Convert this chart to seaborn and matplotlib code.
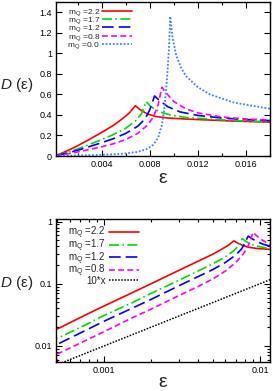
import matplotlib
matplotlib.use("Agg")
import matplotlib.pyplot as plt
import seaborn as sns
from matplotlib.ticker import MultipleLocator, FuncFormatter, LogLocator, NullFormatter

sns.set_style("ticks")
plt.rcParams["font.family"] = ["Liberation Sans", "DejaVu Sans"]
plt.rcParams["mathtext.fontset"] = "custom"
plt.rcParams["mathtext.rm"] = "Liberation Sans"
plt.rcParams["mathtext.it"] = "Liberation Sans:italic"

# data
eps_22 = [0.0002, 0.0003, 0.0005, 0.00075, 0.001, 0.0015, 0.002, 0.003, 0.004, 0.005, 0.0058,
          0.0063, 0.0068, 0.0072, 0.0078, 0.0085, 0.0095, 0.011, 0.013, 0.015, 0.0165, 0.018]
d_22 = [0.0064, 0.0103, 0.0187, 0.031, 0.044, 0.071, 0.10, 0.163, 0.23, 0.30, 0.37,
        0.42, 0.49, 0.45, 0.41, 0.385, 0.37, 0.36, 0.35, 0.34, 0.335, 0.33]

eps_17 = [0.0002, 0.0003, 0.0005, 0.00075, 0.001, 0.0015, 0.002, 0.003, 0.004, 0.005, 0.006,
          0.0068, 0.0073, 0.0077, 0.0081, 0.0088, 0.0097, 0.011, 0.013, 0.015, 0.0165, 0.018]
d_17 = [0.0044, 0.0072, 0.0132, 0.0215, 0.031, 0.049, 0.07, 0.113, 0.16, 0.21, 0.27,
        0.34, 0.41, 0.53, 0.48, 0.43, 0.40, 0.375, 0.36, 0.345, 0.34, 0.33]

eps_12 = [0.0002, 0.0003, 0.0005, 0.00075, 0.001, 0.0015, 0.002, 0.003, 0.004, 0.005, 0.006,
          0.007, 0.0076, 0.008, 0.0084, 0.0088, 0.0095, 0.0105, 0.012, 0.014, 0.016, 0.018]
d_12 = [0.0035, 0.0058, 0.0106, 0.0175, 0.025, 0.040, 0.056, 0.092, 0.13, 0.17, 0.22,
        0.29, 0.36, 0.45, 0.585, 0.54, 0.48, 0.43, 0.395, 0.37, 0.355, 0.345]

eps_08 = [0.0002, 0.0003, 0.0005, 0.00075, 0.001, 0.0015, 0.002, 0.003, 0.004, 0.005, 0.006,
          0.007, 0.0078, 0.0083, 0.0087, 0.009, 0.0094, 0.010, 0.011, 0.012, 0.014, 0.016, 0.018]
d_08 = [0.0025, 0.0040, 0.0074, 0.012, 0.017, 0.028, 0.039, 0.064, 0.09, 0.12, 0.16,
        0.22, 0.30, 0.38, 0.50, 0.67, 0.61, 0.53, 0.46, 0.42, 0.38, 0.36, 0.35]

eps_00 = [0.0002, 0.001, 0.002, 0.003, 0.004, 0.005, 0.006, 0.007, 0.0078, 0.0083, 0.0087,
          0.009, 0.0092, 0.0094, 0.0096, 0.0097, 0.0099, 0.0102, 0.0106, 0.011, 0.012, 0.013,
          0.014, 0.015, 0.016, 0.017, 0.018]
d_00 = [0.001, 0.003, 0.005, 0.008, 0.012, 0.017, 0.025, 0.04, 0.07, 0.11, 0.18,
        0.30, 0.45, 0.70, 1.05, 1.36, 1.15, 0.98, 0.86, 0.78, 0.67, 0.60,
        0.56, 0.52, 0.50, 0.48, 0.46]

eps_ref = [0.00045, 0.012]
d_ref = [0.0045, 0.12]

curves = [
    ("m$_{\\rm Q}$ =2.2", eps_22, d_22, "#ff0000", "-"),
    ("m$_{\\rm Q}$ =1.7", eps_17, d_17, "#00dd00", (0, (6, 2, 1, 2))),
    ("m$_{\\rm Q}$ =1.2", eps_12, d_12, "#0000ff", (0, (7, 3))),
    ("m$_{\\rm Q}$ =0.8", eps_08, d_08, "#ff00ff", (0, (3.5, 2))),
]

fmt = FuncFormatter(lambda v, p: f"{v:g}")

fig = plt.figure(figsize=(2.73, 3.91), dpi=100)
ax1 = fig.add_axes([56 / 273, 1 - 156 / 391, 214 / 273, 154 / 391])
ax2 = fig.add_axes([56 / 273, 1 - 362 / 391, 214 / 273, 143 / 391])

# top: linear
for lab, x, y, c, ls in curves:
    sns.lineplot(x=x, y=y, ax=ax1, color=c, linestyle=ls, linewidth=1.2, label=lab)
sns.lineplot(x=eps_00, y=d_00, ax=ax1, color="#3f7fff", linestyle=(0, (1, 1)),
             linewidth=1.3, label="m$_{\\rm Q}$ =0.0")
ax1.set_xlim(0.0002, 0.018)
ax1.set_ylim(0, 1.5)
ax1.xaxis.set_major_locator(MultipleLocator(0.004))
ax1.xaxis.set_minor_locator(MultipleLocator(0.002))
ax1.yaxis.set_major_locator(MultipleLocator(0.2))
ax1.xaxis.set_major_formatter(fmt)
ax1.yaxis.set_major_formatter(fmt)

# bottom: log-log
for lab, x, y, c, ls in curves:
    sns.lineplot(x=x, y=y, ax=ax2, color=c, linestyle=ls, linewidth=1.2, label=lab)
sns.lineplot(x=eps_ref, y=d_ref, ax=ax2, color="black", linestyle=(0, (1, 1)),
             linewidth=1.1, label="10*x")
ax2.set_xscale("log")
ax2.set_yscale("log")
ax2.set_xlim(0.00049, 0.0116)
ax2.set_ylim(0.0055, 1.1)
for a in (ax2.xaxis, ax2.yaxis):
    a.set_major_locator(LogLocator(base=10))
    a.set_minor_locator(LogLocator(base=10, subs=range(2, 10)))
    a.set_major_formatter(fmt)
    a.set_minor_formatter(NullFormatter())

for ax, ly, fs, sp, hl in ((ax1, 0.46, 6, -0.3, 3.6), (ax2, 0.55, 7, -0.38, 3.1)):
    ax.tick_params(which="both", direction="in", top=True, right=True,
                   labelsize=6.5, width=0.8, pad=3, colors="black")
    ax.tick_params(which="major", length=4)
    ax.tick_params(which="minor", length=2)
    for s in ax.spines.values():
        s.set_linewidth(1.0)
        s.set_color("black")
    ax.set_xlabel("ε", fontsize=14, va="baseline")
    ax.xaxis.set_label_coords(0.5, -0.175)
    ax.set_ylabel("$D$ (ε)", fontsize=11, rotation=0, va="center", ha="center")
    ax.yaxis.set_label_coords(-0.182, ly)
    ax.legend(loc="upper left", bbox_to_anchor=(0.03, 1.0), frameon=False,
              fontsize=fs, markerfirst=False, handlelength=hl, handletextpad=0.3,
              labelspacing=sp, borderaxespad=0.4, borderpad=0.2)

fig.savefig("out.png", dpi=100)
